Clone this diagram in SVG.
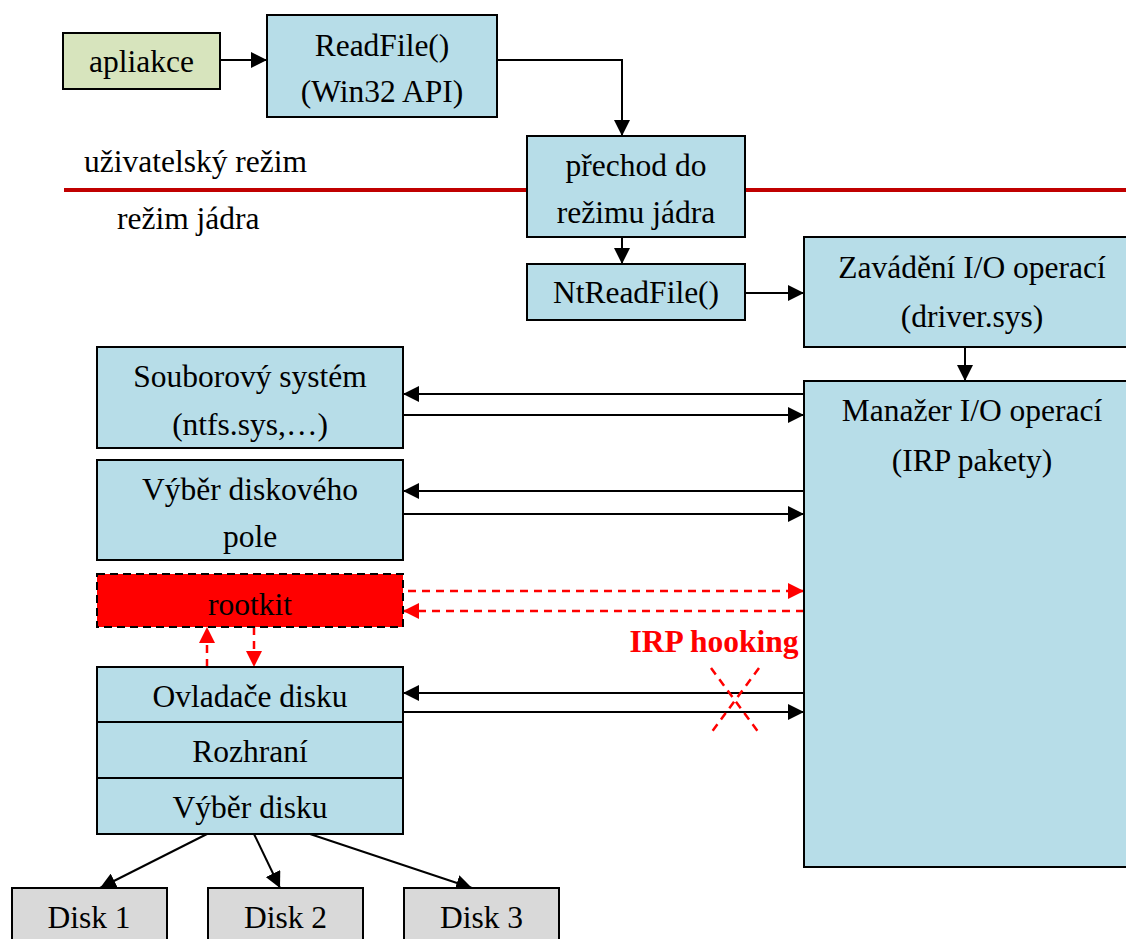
<svg xmlns="http://www.w3.org/2000/svg" width="1126" height="939" viewBox="0 0 1126 939">
<style>
.b{fill:#b7dde8;stroke:#000;stroke-width:2}
.g{fill:#d9d9d9;stroke:#000;stroke-width:2}
.t{font-family:"Liberation Serif","Times New Roman",serif;font-size:31.5px;fill:#000;text-anchor:middle}
.c{stroke:#000;stroke-width:2;fill:none}
.r{stroke:#ff0000;stroke-width:2.5;fill:none;stroke-dasharray:8 6}
</style>
<defs>
<marker id="a" viewBox="0 0 10 10" refX="10" refY="5" markerWidth="16" markerHeight="16" markerUnits="userSpaceOnUse" orient="auto"><path d="M0,0 L10,5 L0,10 z" fill="#000"/></marker>
<marker id="ar" viewBox="0 0 10 10" refX="10" refY="5" markerWidth="16" markerHeight="16" markerUnits="userSpaceOnUse" orient="auto"><path d="M0,0 L10,5 L0,10 z" fill="#ff0000"/></marker>
</defs>
<rect width="1126" height="939" fill="#fff"/>
<g id="modes">
<line x1="64" y1="190" x2="1126" y2="190" stroke="#c00000" stroke-width="4"/>
<text class="t" x="84" y="172" style="text-anchor:start">uživatelský režim</text>
<text class="t" x="117" y="229" style="text-anchor:start">režim jádra</text>
</g>
<g id="connectors">
<line class="c" x1="220" y1="60" x2="267" y2="60" marker-end="url(#a)"/>
<polyline class="c" points="497,60 622,60 622,136" marker-end="url(#a)"/>
<line class="c" x1="622" y1="237" x2="622" y2="264" marker-end="url(#a)"/>
<line class="c" x1="745" y1="293" x2="804" y2="293" marker-end="url(#a)"/>
<line class="c" x1="965" y1="347" x2="965" y2="381" marker-end="url(#a)"/>
<line class="c" x1="804" y1="394" x2="403" y2="394" marker-end="url(#a)"/>
<line class="c" x1="403" y1="415" x2="804" y2="415" marker-end="url(#a)"/>
<line class="c" x1="804" y1="491" x2="403" y2="491" marker-end="url(#a)"/>
<line class="c" x1="403" y1="514" x2="804" y2="514" marker-end="url(#a)"/>
<line class="r" x1="408" y1="591" x2="804" y2="591" marker-end="url(#ar)"/>
<line class="r" x1="804" y1="611" x2="403" y2="611" marker-end="url(#ar)"/>
<line class="c" x1="804" y1="693" x2="403" y2="693" marker-end="url(#a)"/>
<line class="c" x1="403" y1="712" x2="804" y2="712" marker-end="url(#a)"/>
<line class="r" x1="207" y1="667" x2="207" y2="627" marker-end="url(#ar)"/>
<line class="r" x1="254" y1="627" x2="254" y2="667" marker-end="url(#ar)"/>
<line class="c" x1="207" y1="834" x2="100" y2="888" marker-end="url(#a)"/>
<line class="c" x1="254" y1="834" x2="280" y2="888" marker-end="url(#a)"/>
<line class="c" x1="310" y1="834" x2="472" y2="888" marker-end="url(#a)"/>
</g>
<g id="hook">
<text x="714" y="652" style="font-family:'Liberation Serif','Times New Roman',serif;font-size:31.5px;font-weight:bold;fill:#ff0000;text-anchor:middle">IRP hooking</text>
<line class="r" x1="711" y1="668" x2="759" y2="733"/>
<line class="r" x1="759" y1="668" x2="711" y2="733"/>
</g>
<g id="apliakce"><rect x="63" y="33" width="157" height="56" fill="#d7e4bd" stroke="#000" stroke-width="2"/><text class="t" x="141.5" y="72">apliakce</text></g>
<g id="readfile"><rect class="b" x="267" y="15" width="230" height="102"/><text class="t" x="382" y="56">ReadFile()</text><text class="t" x="382" y="102">(Win32 API)</text></g>
<g id="prechod"><rect class="b" x="527" y="136" width="218" height="101"/><text class="t" x="636" y="176">přechod do</text><text class="t" x="636" y="223">režimu jádra</text></g>
<g id="ntreadfile"><rect class="b" x="527" y="264" width="218" height="56"/><text class="t" x="636" y="303">NtReadFile()</text></g>
<g id="zavadeni"><rect class="b" x="804" y="237" width="330" height="110"/><text class="t" x="972" y="278">Zavádění I/O operací</text><text class="t" x="972" y="327">(driver.sys)</text></g>
<g id="manazer"><rect class="b" x="804" y="381" width="330" height="486"/><text class="t" x="972" y="421">Manažer I/O operací</text><text class="t" x="972" y="471">(IRP pakety)</text></g>
<g id="souborovy"><rect class="b" x="97" y="347" width="306" height="101"/><text class="t" x="250" y="387">Souborový systém</text><text class="t" x="250" y="435">(ntfs.sys,…)</text></g>
<g id="vyber-pole"><rect class="b" x="97" y="460" width="306" height="100"/><text class="t" x="250" y="500">Výběr diskového</text><text class="t" x="250" y="547">pole</text></g>
<g id="rootkit"><rect x="97" y="574" width="306" height="53" fill="#ff0000" stroke="#000" stroke-width="2" stroke-dasharray="8 5"/><text class="t" x="250" y="615">rootkit</text></g>
<g id="ovladace"><rect class="b" x="97" y="667" width="306" height="55"/><text class="t" x="250" y="707">Ovladače disku</text></g>
<g id="rozhrani"><rect class="b" x="97" y="722" width="306" height="56"/><text class="t" x="250" y="762">Rozhraní</text></g>
<g id="vyber-disku"><rect class="b" x="97" y="778" width="306" height="56"/><text class="t" x="250" y="818">Výběr disku</text></g>
<g id="disk1"><rect class="g" x="12" y="888" width="155" height="60"/><text class="t" x="89" y="928">Disk 1</text></g>
<g id="disk2"><rect class="g" x="208" y="888" width="155" height="60"/><text class="t" x="285.5" y="928">Disk 2</text></g>
<g id="disk3"><rect class="g" x="404" y="888" width="155" height="60"/><text class="t" x="481.5" y="928">Disk 3</text></g>
</svg>
